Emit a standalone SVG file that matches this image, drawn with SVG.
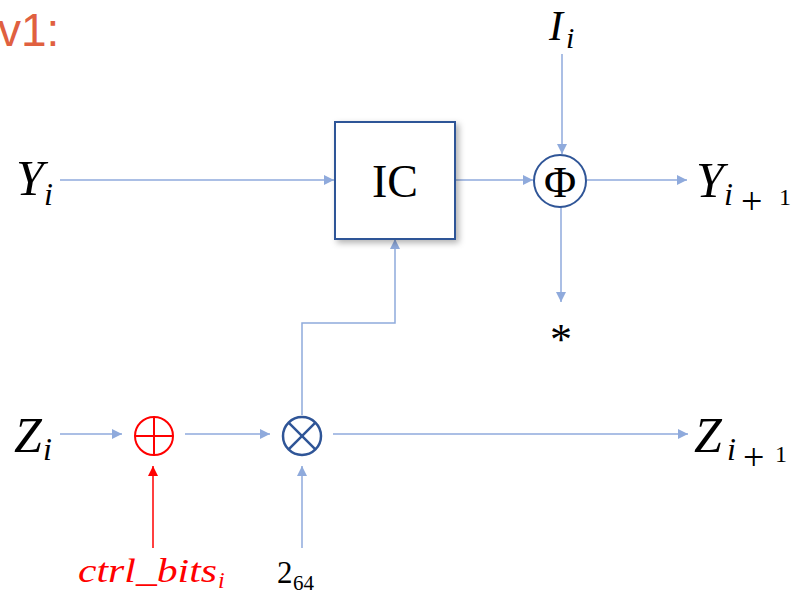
<svg xmlns="http://www.w3.org/2000/svg" width="799" height="594" viewBox="0 0 799 594">
<defs>
<marker id="ab" viewBox="0 0 10 10" refX="10" refY="5" markerWidth="10" markerHeight="10" markerUnits="userSpaceOnUse" orient="auto">
<path d="M0,0 L10,5 L0,10 z" fill="#8FAADC"/>
</marker>
<marker id="ar" viewBox="0 0 10 10" refX="10" refY="5" markerWidth="10" markerHeight="10" markerUnits="userSpaceOnUse" orient="auto">
<path d="M0,0 L10,5 L0,10 z" fill="#FF0000"/>
</marker>
<filter id="sh" x="-20%" y="-20%" width="140%" height="140%">
<feDropShadow dx="3" dy="3" stdDeviation="3" flood-color="#000" flood-opacity="0.3"/>
</filter>
</defs>
<style>
.c{fill:none;stroke:#8FAADC;stroke-width:1.5;marker-end:url(#ab)}
.cr{fill:none;stroke:#FF0000;stroke-width:1.5;marker-end:url(#ar)}
.m{font-family:"Liberation Serif","DejaVu Serif",serif;font-style:italic;fill:#000}
.s{font-family:"Liberation Serif","DejaVu Serif",serif;fill:#000}
.red{fill:#FF0000}
</style>
<rect width="799" height="594" fill="#fff"/>
<text x="-2" y="46" font-family="Liberation Sans, Arial, sans-serif" font-size="46" fill="#E06040">v1:</text>

<g id="connectors">
<line class="c" x1="60" y1="180" x2="334" y2="180"/>
<line class="c" x1="456" y1="180" x2="533" y2="180"/>
<line class="c" x1="562" y1="54" x2="562" y2="154"/>
<line class="c" x1="587" y1="180" x2="687" y2="180"/>
<line class="c" x1="561" y1="207" x2="561" y2="302"/>
<line class="c" x1="60" y1="434" x2="122" y2="434"/>
<line class="c" x1="185" y1="434" x2="270" y2="434"/>
<line class="c" x1="333" y1="434" x2="688" y2="434"/>
<polyline class="c" points="302,415 302,323 395,323 395,239"/>
<line class="c" x1="302" y1="548" x2="302" y2="466"/>
<line class="cr" x1="153" y1="548" x2="153" y2="466"/>
</g>

<g id="ic">
<rect x="335" y="122" width="120" height="117" fill="#fff" stroke="#2F5597" stroke-width="2" filter="url(#sh)"/>
<text class="s" x="395" y="197" font-size="46" text-anchor="middle">IC</text>
</g>

<g id="phi">
<circle cx="560" cy="181" r="26" fill="#fff" stroke="#2F5597" stroke-width="2"/>
<text class="s" x="560" y="197" font-size="44" text-anchor="middle">Φ</text>
</g>

<g id="xor">
<circle cx="154" cy="436" r="19" fill="none" stroke="#FF0000" stroke-width="2"/>
<line x1="135" y1="436" x2="173" y2="436" stroke="#FF0000" stroke-width="2"/>
<line x1="154" y1="417" x2="154" y2="455" stroke="#FF0000" stroke-width="2"/>
</g>

<g id="otimes">
<circle cx="302" cy="436" r="19" fill="none" stroke="#2F5597" stroke-width="2.5"/>
<line x1="288.6" y1="422.6" x2="315.4" y2="449.4" stroke="#2F5597" stroke-width="2.5"/>
<line x1="315.4" y1="422.6" x2="288.6" y2="449.4" stroke="#2F5597" stroke-width="2.5"/>
</g>

<g id="yi"><text class="m" x="16" y="195" font-size="50">Y</text><text class="m" x="44" y="205" font-size="32">i</text></g>
<g id="yi1"><text class="m" x="696" y="197" font-size="50">Y</text><text class="m" x="724" y="205" font-size="32">i</text><text class="s" x="741" y="214" font-size="38">+</text><text class="s" x="779" y="205" font-size="24">1</text></g>
<g id="ii"><text class="m" x="549" y="40" font-size="42">I</text><text class="m" x="566" y="48" font-size="30">i</text></g>
<g id="star"><text class="s" x="561" y="354" font-size="44" text-anchor="middle">*</text></g>
<g id="zi"><text class="m" x="14" y="452" font-size="50">Z</text><text class="m" x="43" y="460" font-size="32">i</text></g>
<g id="zi1"><text class="m" x="694" y="452" font-size="50">Z</text><text class="m" x="727" y="460" font-size="32">i</text><text class="s" x="743" y="470" font-size="38">+</text><text class="s" x="775" y="462" font-size="24">1</text></g>
<g id="ctrl"><text class="m red" x="78" y="582" font-size="34" textLength="139" lengthAdjust="spacingAndGlyphs">ctrl_bits</text><text class="m red" x="218" y="588" font-size="24">i</text></g>
<g id="two"><text class="s" x="277" y="583" font-size="31">2</text><text class="s" x="293" y="590" font-size="21">64</text></g>
</svg>
